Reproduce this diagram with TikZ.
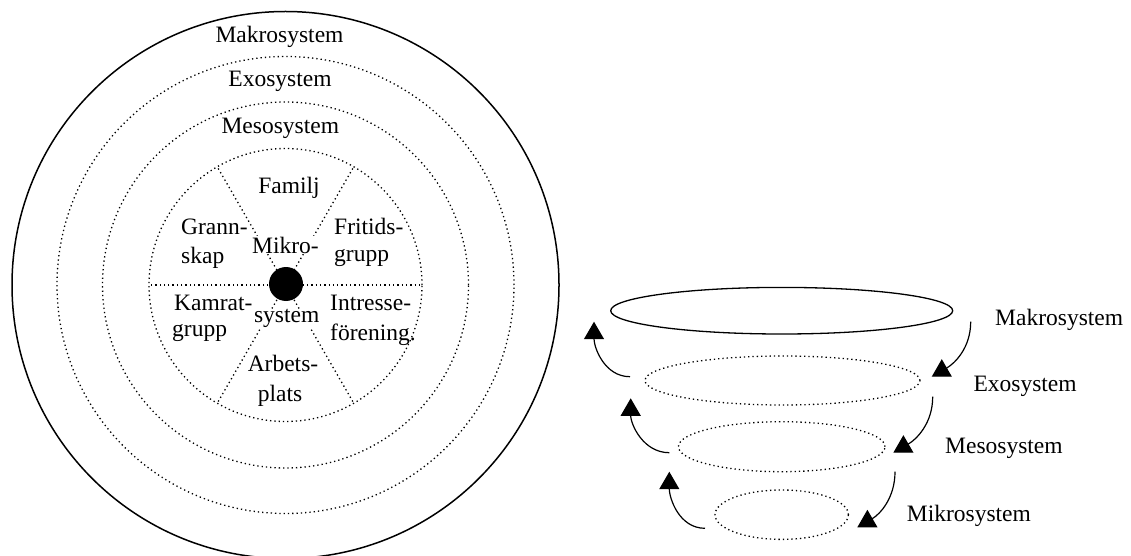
\documentclass[tikz,border=0pt]{standalone}
\usepackage{fontspec}
\setmainfont{Liberation Serif}
\usetikzlibrary{shapes.geometric,arrows.meta}

\tikzstyle{ring} = [draw=black, line width=1.3pt, dash pattern=on 1.3pt off 3pt]
\tikzstyle{lbl} = [inner sep=0pt, font=\fontsize{23.5}{28}\selectfont]
\tikzstyle{lvl} = [ellipse, draw=black, line width=1.3pt, inner sep=0pt]
\tikzstyle{flow} = [-{Triangle[width=20pt,length=17.5pt]}, line width=1.2pt]

\begin{document}
\begin{tikzpicture}[x=1pt,y=1pt]
\clip (0,0) rectangle (1131,555);

\coordinate (C) at (285.5,270);
\draw[line width=1.5pt] (C) circle (273.5);
\draw[ring] (C) circle (228.5);
\draw[ring] (C) circle (183);
\draw[ring] (C) circle (136.5);
\foreach \a in {0,60,...,300}
  \draw[ring] (C) -- ++(\a:136.5);
\node[circle, fill=black, minimum size=34pt, inner sep=0pt] (dot) at (286,271) {};

\node[lbl, anchor=base] (Mak) at (279.5,512) {Makrosystem};
\node[lbl, anchor=base] (Exo) at (280,468.3) {Exosystem};
\node[lbl, anchor=base] (Mes) at (280.3,421) {Mesosystem};

\node[lbl, anchor=base] (Fam) at (289,361) {Familj};
\node[lbl, anchor=base west] (Gr1) at (181,320) {Grann-};
\node[lbl, anchor=base west] (Gr2) at (181,292) {skap};
\node[lbl, anchor=base, fill=white, inner sep=0.5pt] (Mi1) at (285.5,301.7) {Mikro-};
\node[lbl, anchor=base west] (Fr1) at (334,321) {Fritids-};
\node[lbl, anchor=base west] (Fr2) at (334,293.3) {grupp};
\node[lbl, anchor=base west] (Ka1) at (174,245) {Kamrat-};
\node[lbl, anchor=base west] (Ka2) at (172,218.3) {grupp};
\node[lbl, anchor=base, fill=white, inner sep=0.5pt] (Mi2) at (286.7,232.3) {system};
\node[lbl, anchor=base west] (In1) at (330,245) {Intresse-};
\node[lbl, anchor=base west] (In2) at (330,215) {förening.};
\node[lbl, anchor=base] (Ar1) at (283,183.3) {Arbets-};
\node[lbl, anchor=base] (Ar2) at (280,153.3) {plats};

\node[lvl, minimum width=342pt, minimum height=46.6pt] (E1) at (781.7,244.3) {};
\node[lvl, ring, minimum width=275pt, minimum height=49pt] (E2) at (782.5,174.5) {};
\node[lvl, ring, minimum width=206.6pt, minimum height=50pt] (E3) at (781.7,108.3) {};
\node[lvl, ring, minimum width=133.4pt, minimum height=49.4pt] (E4) at (781.7,40.3) {};

\node[lbl, anchor=base west] (R1) at (995,230) {Makrosystem};
\node[lbl, anchor=base west] (R2) at (973.3,163.3) {Exosystem};
\node[lbl, anchor=base west] (R3) at (945,101.7) {Mesosystem};
\node[lbl, anchor=base west] (R4) at (906.7,33.3) {Mikrosystem};

\coordinate (a1) at (630,178.3);
\coordinate (a1t) at (594,233.3);
\coordinate (a2) at (669.3,102.3);
\coordinate (a2t) at (630.7,156.7);
\coordinate (a3) at (705,26.7);
\coordinate (a3t) at (669.3,83.3);
\coordinate (b1) at (970.7,233.3);
\coordinate (b1t) at (931.7,178.3);
\coordinate (b2) at (932.7,158.3);
\coordinate (b2t) at (893.3,102.3);
\coordinate (b3) at (895,83.3);
\coordinate (b3t) at (857.3,27.7);

\draw[flow] (a1) to[out=180,in=-90] (a1t);
\draw[flow] (a2) to[out=180,in=-90] (a2t);
\draw[flow] (a3) to[out=180,in=-90] (a3t);
\draw[flow] (b1) to[out=-90,in=30] (b1t);
\draw[flow] (b2) to[out=-90,in=30] (b2t);
\draw[flow] (b3) to[out=-90,in=30] (b3t);

\end{tikzpicture}
\end{document}
